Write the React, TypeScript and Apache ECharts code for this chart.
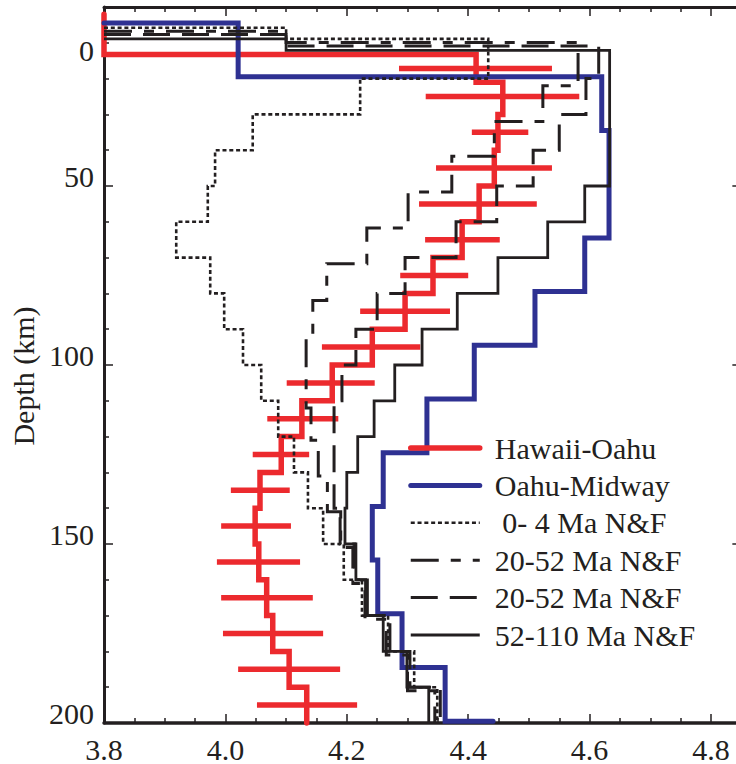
import React, { useEffect, useRef } from 'react';
import * as echarts from 'echarts';

const INK = '#231f20';
const RED = '#ec2a2e';
const BLUE = '#2e3192';
const FONT = "'Liberation Serif', 'Times New Roman', serif";
const WATER = 3.8;

// x axis (shear velocity, km/s) and y axis (depth, km)
const X_MIN = 3.8;
const X_MAX = 5.0;
const X_STEP = 0.2;
const Y_MIN = 0;
const Y_MAX = 200;
const Y_STEP = 50;

// Hawaii-Oahu: layer tops (km) and velocities
const hoTops = [2, 13.3, 21, 30, 40, 50, 60, 70, 80, 90, 100, 110, 120, 130, 140, 150, 160, 170, 180, 190];
const hoVs = [3.8, 4.413, 4.457, 4.449, 4.443, 4.418, 4.39, 4.342, 4.296, 4.242, 4.176, 4.126, 4.092, 4.057, 4.049, 4.055, 4.068, 4.078, 4.105, 4.134];
const hoBottom = 200;
// Hawaii-Oahu error bars
const hoErrDepth = [17.2, 25, 35, 45, 55, 65, 75, 85, 95, 105, 115, 125, 135, 145, 155, 165, 175, 185, 195];
const hoErrLo = [4.286, 4.33, 4.406, 4.347, 4.319, 4.329, 4.288, 4.222, 4.159, 4.101, 4.069, 4.045, 4.009, 3.993, 3.986, 3.993, 3.996, 4.021, 4.052];
const hoErrHi = [4.538, 4.583, 4.499, 4.538, 4.513, 4.452, 4.4, 4.37, 4.321, 4.246, 4.186, 4.138, 4.106, 4.108, 4.123, 4.144, 4.161, 4.189, 4.217];

// Oahu-Midway
const omTops = [4.5, 19.5, 34.5, 64.5, 79.5, 94.5, 109.5, 124.5, 139.5, 154.5, 169.5, 184.5, 199.5];
const omVs = [4.021, 4.62, 4.632, 4.592, 4.51, 4.41, 4.332, 4.26, 4.242, 4.251, 4.291, 4.362, 4.441];
const omBottom = 199.5;

// 0-4 Ma N&F
const nfATops = [5.8, 8.9, 20, 30, 40, 50, 60, 70, 80, 90, 100, 110, 120, 130, 140, 150, 160, 170, 180, 190];
const nfAVs = [4.1, 4.433, 4.222, 4.045, 3.983, 3.971, 3.919, 3.975, 3.998, 4.029, 4.059, 4.087, 4.113, 4.136, 4.161, 4.195, 4.225, 4.268, 4.311, 4.349];

// 20-52 Ma N&F (first)
const nfBTops = [6.75, 9.9, 22, 32, 41.7, 51.7, 61.7, 71.7, 82, 92, 112, 121, 131, 141, 151, 161, 171, 181, 191];
const nfBVs = [4.1, 4.581, 4.523, 4.443, 4.373, 4.301, 4.233, 4.167, 4.144, 4.133, 4.141, 4.153, 4.168, 4.19, 4.21, 4.23, 4.265, 4.3, 4.345];

// 20-52 Ma N&F (second)
const nfCTops = [7.7, 10.9, 20, 30, 40, 50, 60, 70, 80, 90, 100, 110, 140, 150, 160, 170, 180, 190];
const nfCVs = [4.1, 4.615, 4.594, 4.55, 4.507, 4.447, 4.38, 4.296, 4.25, 4.215, 4.192, 4.179, 4.189, 4.213, 4.231, 4.271, 4.304, 4.354];

// 52-110 Ma N&F
const nfDTops = [8.9, 12.1, 50, 60, 70, 80, 90, 100, 110, 120, 130, 140, 150, 160, 170, 180, 190];
const nfDVs = [4.1, 4.633, 4.592, 4.531, 4.449, 4.382, 4.324, 4.279, 4.245, 4.218, 4.2, 4.197, 4.215, 4.234, 4.26, 4.299, 4.335];
const nfBottom = 200;

const seriesNames = ['ho', 'om', 'nfA', 'nfB', 'nfC', 'nfD'];
const legendLabels = ['Hawaii-Oahu', 'Oahu-Midway', '\u00a00- 4 Ma N&F', '20-52 Ma N&F', '20-52 Ma N&F', '52-110 Ma N&F'];

function stepLine(tops: number[], vs: number[], bottom: number, water?: number) {
  const pts: number[][] = [];
  if (water !== undefined) pts.push([water, tops[0]]);
  vs.forEach((v, i) => {
    pts.push([v, tops[i]]);
    pts.push([v, i + 1 < tops.length ? tops[i + 1] : bottom]);
  });
  return pts;
}

export default function App() {
  const ref = useRef<HTMLDivElement>(null);
  useEffect(() => {
    if (!ref.current) return;
    const chart = echarts.init(ref.current, null, { renderer: 'svg' });
    const labelStyle = { color: INK, fontFamily: FONT, fontSize: 30 };
    const tick = { show: true, inside: true, length: 9, lineStyle: { color: INK, width: 1.5 } };
    const minor = (n: number) => ({ show: true, splitNumber: n, length: 5, lineStyle: { color: INK, width: 1.5 } });
    const axisLine = (w: number) => ({ show: true, onZero: false, lineStyle: { color: INK, width: w } });
    const errData = hoErrDepth.map((d, i) => [hoErrLo[i], hoErrHi[i], d]);
    const lineSeries = (name: string, data: number[][], color: string, width: number, type: any, z: number, cap = 'butt') => ({
      name,
      type: 'line',
      data,
      symbol: 'none',
      clip: false,
      z,
      lineStyle: { color, width, type, cap, join: 'miter' },
      itemStyle: { color },
    });
    chart.setOption({
      animation: false,
      backgroundColor: '#fff',
      grid: { left: 104, top: 7, width: (X_MAX - X_MIN) * 607, height: 719 },
      xAxis: [
        {
          type: 'value', position: 'bottom', min: X_MIN, max: X_MAX, interval: X_STEP,
          axisLine: axisLine(3.5), axisTick: tick, minorTick: minor(4),
          splitLine: { show: false }, minorSplitLine: { show: false },
          axisLabel: { ...labelStyle, margin: 11, showMaxLabel: false, formatter: (v: number) => v.toFixed(1) },
        },
        {
          type: 'value', position: 'top', min: X_MIN, max: X_MAX, interval: X_STEP,
          axisLine: axisLine(3), axisTick: tick, minorTick: minor(4),
          splitLine: { show: false }, axisLabel: { show: false },
        },
      ],
      yAxis: [
        {
          type: 'value', position: 'left', inverse: true, min: Y_MIN, max: Y_MAX, interval: Y_STEP,
          axisLine: axisLine(3), axisTick: tick, minorTick: minor(5),
          splitLine: { show: false }, minorSplitLine: { show: false },
          axisLabel: {
            margin: 10, showMinLabel: false,
            formatter: (v: number) => `{a|${v}}`,
            rich: { a: { ...labelStyle, padding: [0, 0, 20, 0] } },
          },
        },
        {
          type: 'value', position: 'right', offset: -((X_MAX - 4.85) * 607), inverse: true,
          min: Y_MIN, max: Y_MAX, interval: Y_STEP,
          axisLine: axisLine(3), axisTick: tick, minorTick: minor(5),
          splitLine: { show: false }, axisLabel: { show: false },
        },
      ],
      legend: {
        data: seriesNames,
        orient: 'vertical',
        left: 408,
        top: 433,
        padding: 0,
        itemWidth: 69,
        itemHeight: 14,
        itemGap: 7.4,
        itemStyle: { opacity: 0 },
        lineStyle: { width: 'inherit', cap: 'inherit' },
        formatter: (name: string) => legendLabels[seriesNames.indexOf(name)],
        textStyle: { ...labelStyle, lineHeight: 30, padding: [0, 0, 0, 10] },
        selectedMode: false,
      },
      graphic: [
        {
          type: 'text', x: 23, y: 376, rotation: Math.PI / 2,
          style: { text: 'Depth (km)', fill: INK, fontFamily: FONT, fontSize: 30, align: 'center', verticalAlign: 'middle' },
        },
        {
          type: 'text', x: 94, y: 50,
          style: { text: '0', fill: INK, fontFamily: FONT, fontSize: 30, align: 'right', verticalAlign: 'middle' },
        },
      ],
      series: [
        {
          name: 'hoErr',
          type: 'custom',
          data: errData,
          z: 2,
          clip: false,
          encode: { x: [0, 1], y: 2 },
          renderItem: (params: any, api: any) => {
            const p1 = api.coord([api.value(0), api.value(2)]);
            const p2 = api.coord([api.value(1), api.value(2)]);
            return {
              type: 'line',
              shape: { x1: p1[0], y1: p1[1], x2: p2[0], y2: p2[1] },
              style: { stroke: RED, lineWidth: 5.5, lineCap: 'butt' },
            };
          },
        },
        lineSeries('ho', stepLine(hoTops, hoVs, hoBottom), RED, 5.5, 'solid', 2, 'round'),
        lineSeries('om', stepLine(omTops, omVs, omBottom, WATER), BLUE, 5, 'solid', 3, 'round'),
        lineSeries('nfA', stepLine(nfATops, nfAVs, nfBottom, WATER), INK, 2.6, [4, 2.8], 4),
        lineSeries('nfB', stepLine(nfBTops, nfBVs, nfBottom, WATER), INK, 3, [28, 12, 10, 12], 4),
        lineSeries('nfC', stepLine(nfCTops, nfCVs, nfBottom, WATER), INK, 3, [27, 12], 4),
        lineSeries('nfD', stepLine(nfDTops, nfDVs, nfBottom, WATER), INK, 2.8, 'solid', 4),
      ],
    });
    return () => chart.dispose();
  }, []);
  return (
    <div style={{ position: 'absolute', left: 0, top: 0, width: 736, height: 764, overflow: 'hidden', background: '#fff' }}>
      <div ref={ref} style={{ width: 840, height: 764 }} />
    </div>
  );
}
